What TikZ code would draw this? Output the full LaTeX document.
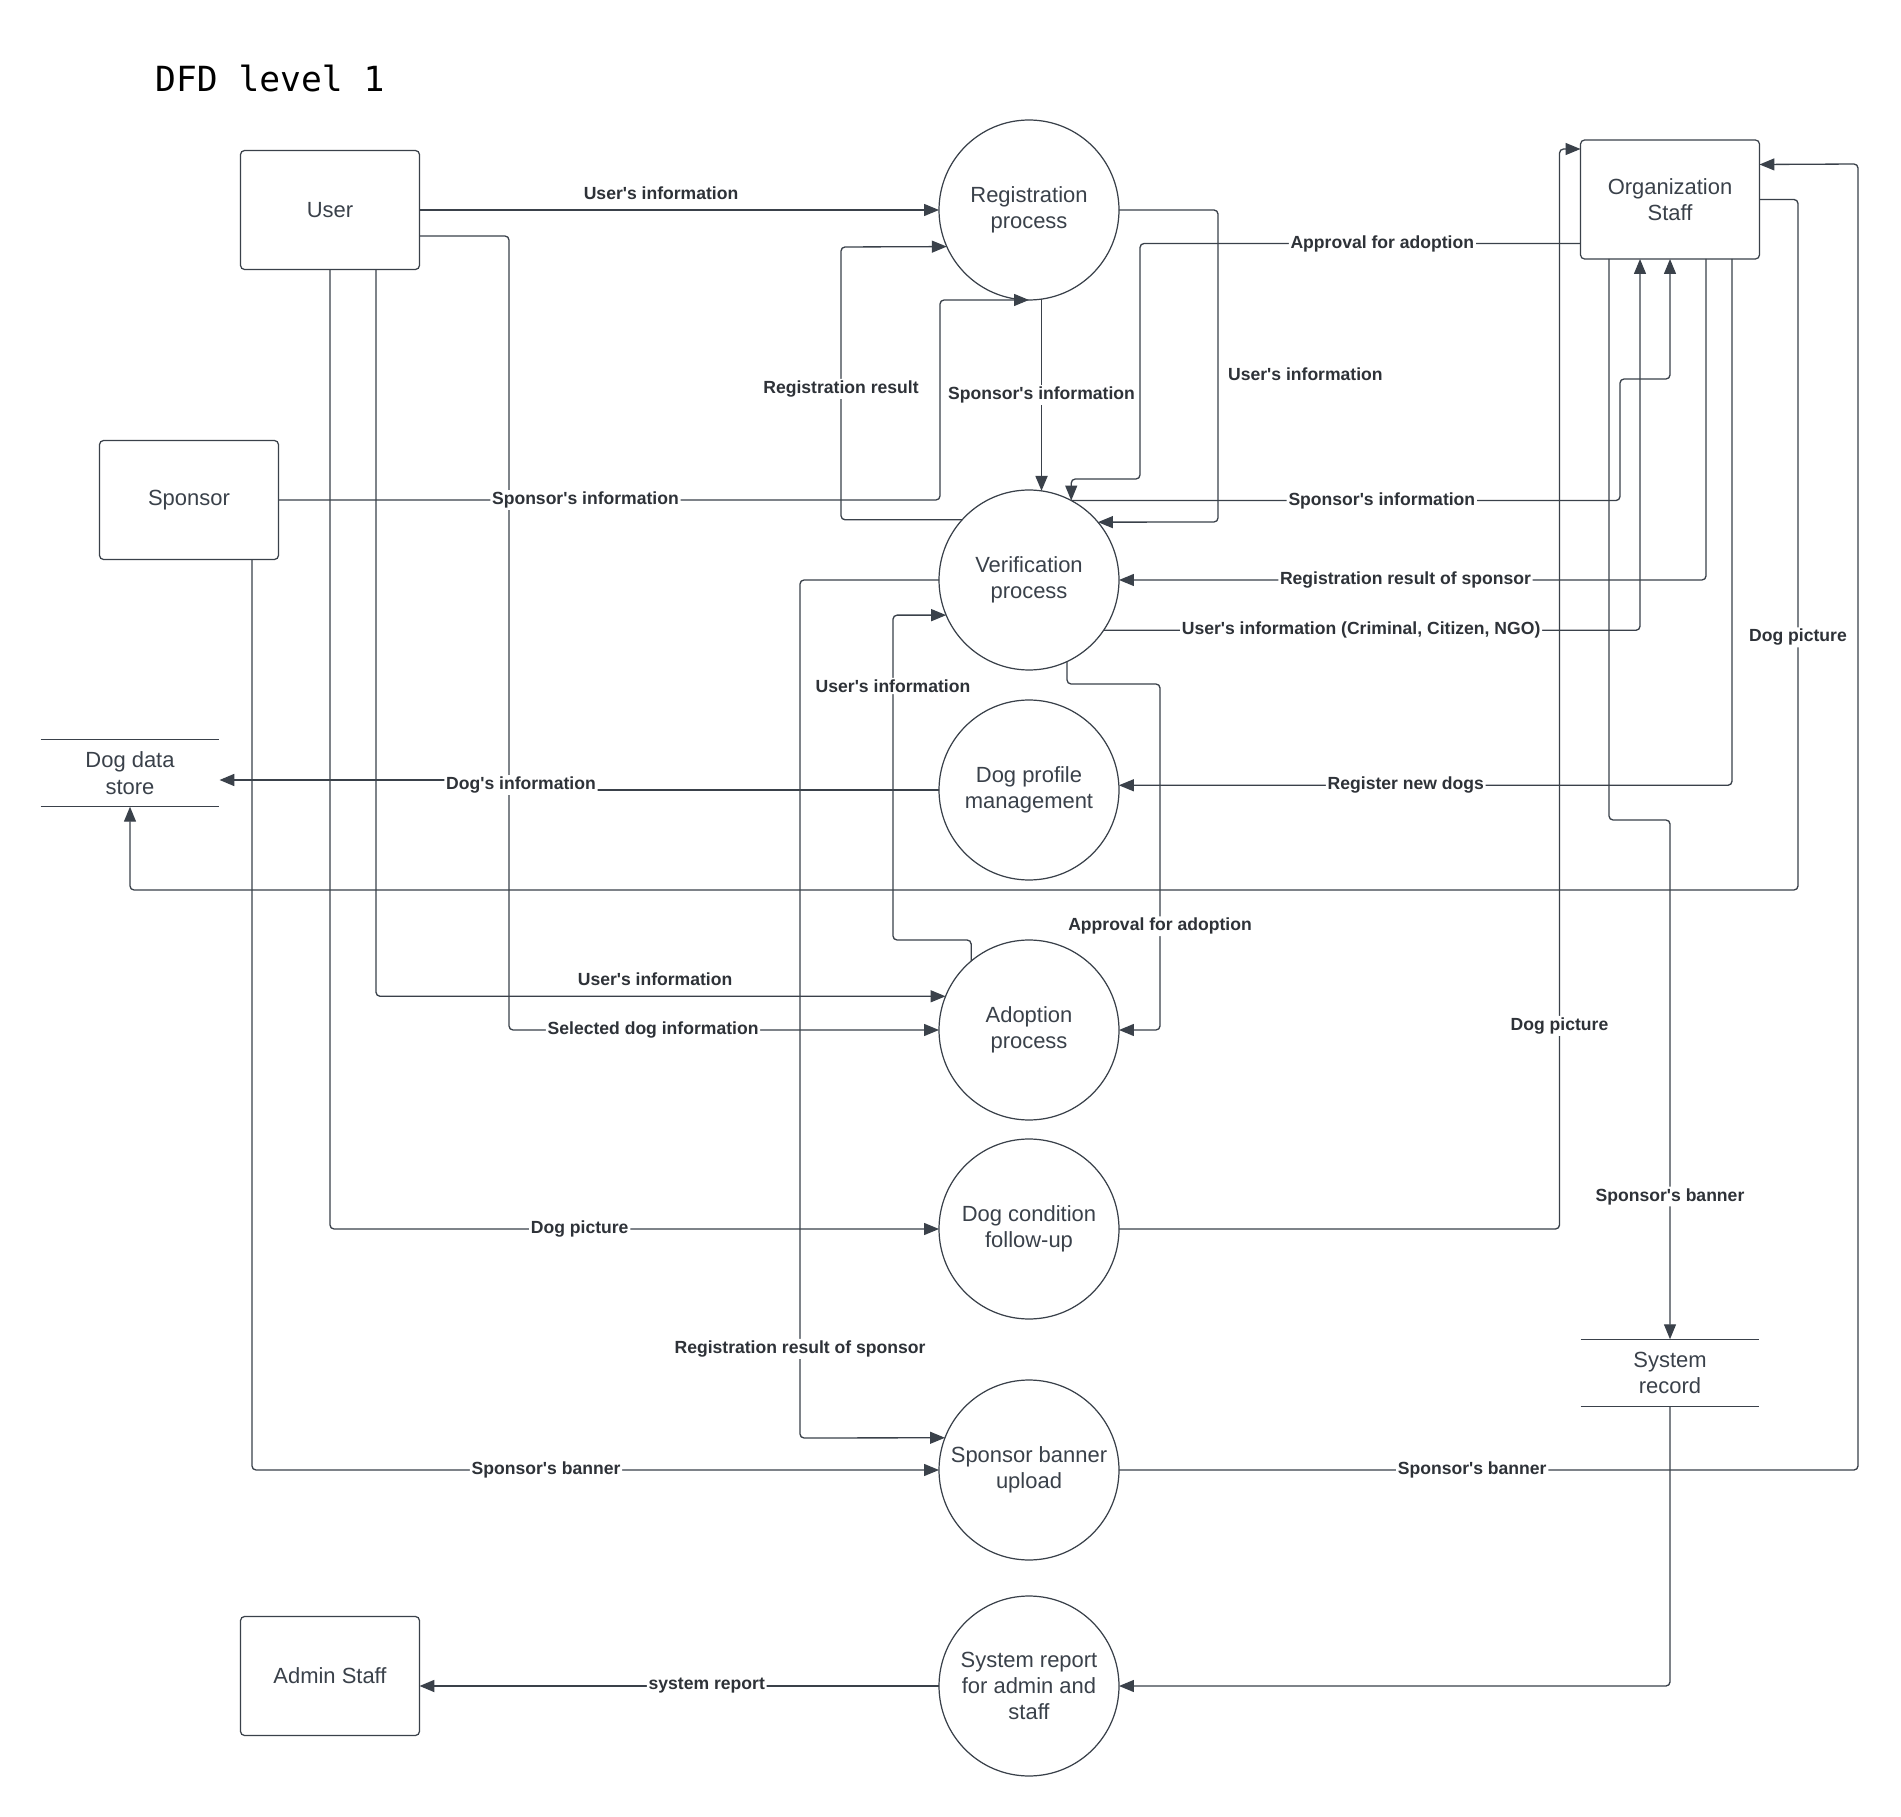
\documentclass[tikz,border=0pt]{standalone}
\usepackage{fontspec}
\setmainfont{Liberation Sans}[Ligatures=TeXOff]
\newfontfamily\titlefont{DejaVu Sans Mono}
\usetikzlibrary{arrows.meta,calc}
\definecolor{ink}{HTML}{3A414A}
\definecolor{lbltext}{HTML}{2E3238}
\begin{document}
\begin{tikzpicture}[x=0.02cm,y=-0.02cm,
  shapetext/.style={font=\fontsize{12.5}{15}\selectfont, text=ink, align=center},
  entity/.style={shapetext, draw=ink, line width=0.7pt, rounded corners=2.3pt,
    minimum width=3.58cm, minimum height=2.38cm, inner sep=0pt, outer sep=0pt},
  proc/.style={shapetext, draw=ink, line width=0.7pt, circle,
    minimum size=3.6cm, inner sep=0pt, outer sep=0pt},
  store/.style={shapetext, minimum width=3.58cm, minimum height=1.35cm,
    inner sep=0pt, outer sep=0pt},
  storeline/.style={draw=ink, line width=0.7pt},
  flow/.style={draw=ink, line width=0.75pt, rounded corners=2.3pt,
    -{Triangle[length=8.5pt,width=6.8pt]}},
  heavy/.style={line width=1.1pt},
  lbl/.style={font=\bfseries\fontsize{10}{12}\selectfont, text=lbltext,
    fill=white, inner sep=1pt},
  freelbl/.style={lbl, fill=none},
]
\fill[white] (0,0) rectangle (1901,1817);
\useasboundingbox (0,0) rectangle (1901,1817);

% heading
\node[anchor=base west, font=\titlefont\fontsize{19.7}{24}\selectfont, text=black]
  (title) at (149,92) {DFD level 1};

% external entities
\node[entity] (user)    at (330,210)    {User};
\node[entity] (sponsor) at (189,500)    {Sponsor};
\node[entity] (org)     at (1670,199.5) {Organization\\Staff};
\node[entity] (admin)   at (330,1676)   {Admin Staff};

% data stores
\node[store] (dogstore) at (130,773)  {Dog data\\store};
\node[store] (sysrec)   at (1670,1373) {System\\record};
\draw[storeline] (dogstore.north west) -- (dogstore.north east)
                 (dogstore.south west) -- (dogstore.south east);
\draw[storeline] (sysrec.north west) -- (sysrec.north east)
                 (sysrec.south west) -- (sysrec.south east);

% processes
\node[proc] (reg)    at (1029,210)  {Registration\\process};
\node[proc] (ver)    at (1029,580)  {Verification\\process};
\node[proc] (dogp)   at (1029,790)  {Dog profile\\management};
\node[proc] (adopt)  at (1029,1030) {Adoption\\process};
\node[proc] (cond)   at (1029,1229) {Dog condition\\follow-up};
\node[proc] (banner) at (1029,1470) {Sponsor banner\\upload};
\node[proc] (report) at (1029,1686) {System report\\for admin and\\staff};

% flows from the user
\draw[flow] ($(user.east)+(0,26)$) -| (509,1030)
  -- node[lbl,pos=0.335]{Selected dog information} (adopt.west);
\draw[flow] (user.east) -- node[freelbl,above=4.7pt,pos=0.465]{User's information} (reg.west);
\draw[flow] ($(user.south)+(46,0)$) |- node[freelbl,above=4.7pt,pos=0.745]{User's information} (adopt.158.5);
\draw[flow] (user.south) |- node[lbl,pos=0.705]{Dog picture} (cond.west);

% flows from the sponsor
\draw[flow] (sponsor.east) -| node[lbl,pos=0.232]{Sponsor's information} (940,300) -- (reg.south);
\draw[flow] ($(sponsor.south)+(63,0)$) |- node[lbl,pos=0.714]{Sponsor's banner} (banner.west);

% registration and verification
\draw[flow] (ver.138.2) -| node[lbl,pos=0.74]{Registration result} (841,247) -- (reg.204.3);
\draw[flow,heavy] (reg.-82.3) -- node[lbl]{Sponsor's information} (ver.82.3);
\draw[flow] (reg.east) -| node[freelbl,pos=0.763,anchor=west,xshift=4.4pt]{User's information} (1218,522) -- (ver.40.1);

% organization staff and verification
\draw[flow] ($(org.west)+(0,44)$) -| node[lbl,pos=0.225]{Approval for adoption} (1140,479) -| (ver.62.2);
\draw[flow] (ver.62.2) -| node[lbl,pos=0.283]{Sponsor's information} (1620,379) -| (org.south);
\draw[flow] ($(org.south)+(36,0)$) |- node[lbl,pos=0.756]{Registration result of sponsor} (ver.east);
\draw[flow] (ver.-34.5) -| node[lbl,pos=0.24]{User's information (Criminal, Citizen, NGO)} ($(org.south)+(-30,0)$);

% dog profiles and pictures
\draw[flow] ($(org.south)+(62,0)$) |- node[lbl,pos=0.766]{Register new dogs} (dogp.3.5);
\draw[flow] (org.east) -| node[lbl,pos=0.817]{Dog picture} (1798,890) -| (dogstore.south);
\draw[flow,heavy] (dogp.west) -- (521,790) -- node[lbl]{Dog's information} (521,780) -- ($(dogstore.east)+(0,7)$);
\draw[flow] (cond.east) -| node[lbl,pos=0.594]{Dog picture} ($(org.north west)+(-21,9)$) -- ($(org.north west)+(0,9)$);

% adoption
\draw[flow] (ver.-65.7) |- (1160,684) |- node[lbl,pos=0.35]{Approval for adoption} (adopt.east);
\draw[flow] (adopt.130.1) |- (893,940) |- node[lbl,pos=0.391]{User's information} (ver.203.9);

% sponsor banners and records
\draw[flow] (ver.west) -| node[lbl,pos=0.948]{Registration result of sponsor} (800,1438) -- (banner.159.2);
\draw[flow] (banner.east) -| node[lbl,pos=0.239]{Sponsor's banner} (1858,164) -- ($(org.east)+(0,-35)$);
\draw[flow] ($(org.south)+(-61,0)$) |- (1670,820) -- node[lbl,pos=0.725]{Sponsor's banner} (sysrec.north);
\draw[flow] (sysrec.south) |- (report.east);
\draw[flow,heavy] (report.west) -- node[lbl,pos=0.447]{system report} (report.west -| admin.east);
\end{tikzpicture}
\end{document}
